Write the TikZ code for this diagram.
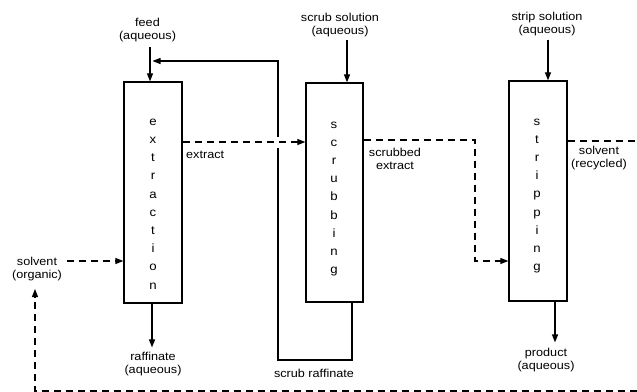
\documentclass[tikz,border=0pt]{standalone}
\usepackage{fontspec}
\setmainfont{Liberation Sans}[FakeStretch=1.1]
\usetikzlibrary{arrows.meta}
\begin{document}
\begin{tikzpicture}[x=1pt,y=-1pt,
  column/.style={draw, line width=1.3pt, minimum width=58pt, minimum height=221pt, inner sep=0pt},
  letters/.style={align=center, font=\fontsize{12}{18.2}\selectfont, inner sep=0pt},
  lbl/.style={align=center, font=\fontsize{11.5}{13}\selectfont, inner sep=2pt},
  flow/.style={line width=1.2pt, -{Triangle[length=8pt,width=6pt]}},
  dflow/.style={flow, dash pattern=on 7pt off 5pt},
  dline/.style={line width=1.2pt, dash pattern=on 7pt off 5pt}]
\useasboundingbox (0,0) rectangle (637,391);

% columns
\node[column] (ext) at (153,192.5) {};
\node[letters] (extL) at (153,204) {e\\x\\t\\r\\a\\c\\t\\i\\o\\n};
\node[column, minimum width=57pt, minimum height=219pt] (scr) at (334.5,192.5) {};
\node[letters] (scrL) at (334,199) {s\\c\\r\\u\\b\\b\\i\\n\\g};
\node[column, minimum width=58pt, minimum height=220pt] (str) at (538,191) {};
\node[letters] (strL) at (537,196) {s\\t\\r\\i\\p\\p\\i\\n\\g};

% labels
\node[lbl] (feed) at (147.5,30) {feed\\(aqueous)};
\node[lbl] (scrsol) at (340,25) {scrub solution\\(aqueous)};
\node[lbl] (strsol) at (547,24.5) {strip solution\\(aqueous)};
\node[lbl] (prod) at (546,360.5) {product\\(aqueous)};
\node[lbl] (raf) at (153,364.5) {raffinate\\(aqueous)};
\node[lbl] (scraf) at (314,373) {scrub raffinate};
\node[lbl] (solv) at (37,269) {solvent\\(organic)};
\node[lbl, anchor=west, inner sep=0pt] (extr) at (186,155) {extract};
\node[lbl] (scrext) at (395,159) {scrubbed\\extract};
\node[lbl] (solrec) at (599,158) {solvent\\(recycled)};

% coordinates
\coordinate (a1) at (67,261);
\coordinate (ey) at (0,142);
\coordinate (sy) at (475,140);
\coordinate (sb) at (475,261);
\coordinate (ry) at (637,141);
\coordinate (b1) at (637,391);
\coordinate (b2) at (35,391);
\coordinate (b3) at (35,289);
\coordinate (r1) at (352,360);
\coordinate (r2) at (278,360);
\coordinate (r3) at (278,61);
\coordinate (fa) at (152.5,61);

% solid flows
\draw[flow] ([xshift=2.5pt,yshift=-3pt]feed.south) -- ([xshift=-3pt]ext.north);
\draw[flow] ([xshift=7pt,yshift=-1pt]scrsol.south) -- ([xshift=12.5pt]scr.north);
\draw[flow] ([xshift=1pt,yshift=-1pt]strsol.south) -- ([xshift=10pt]str.north);
\draw[flow] ([xshift=17pt]str.south) -- ([xshift=9pt,yshift=4pt]prod.north);
\draw[flow] ([xshift=-1pt]ext.south) -- ([xshift=-1pt,yshift=3pt]raf.north);
\draw[flow] (scr.south -| r1) -- (r1) -- (r2) -- (r3) -- (fa);
\fill[white] (274,137) rectangle (282,148);

% dashed flows
\draw[dflow] (a1) -- (a1 -| ext.west);
\draw[dflow] (ext.east |- ey) -- (scr.west |- ey);
\draw[dflow] (scr.east |- sy) -- (sy) -- (sb) -- (str.west |- sb);
\draw[dline] (str.east |- ry) -- (ry);
\draw[dflow] (b1) -- (b2) -- (b3);
\end{tikzpicture}
\end{document}
